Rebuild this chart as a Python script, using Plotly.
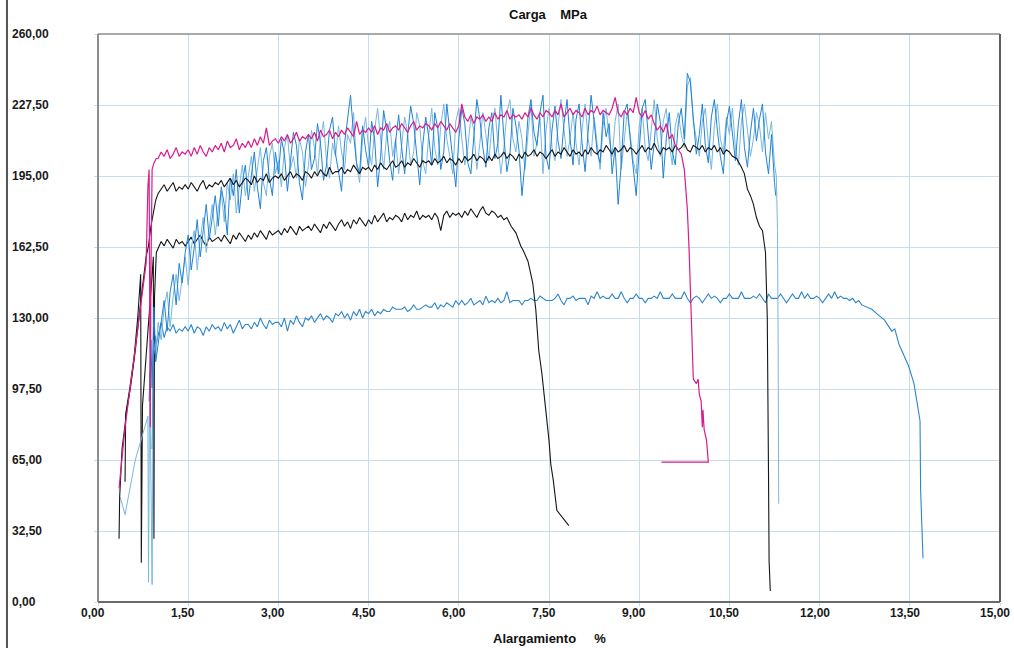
import plotly.graph_objects as go

# ---------------- data ----------------
# common elongation grid (%) used by the plateau parts of the curves
elong_grid = [
    1.00, 1.05, 1.10, 1.15, 1.20, 1.25, 1.30, 1.35, 1.40, 1.45,
    1.50, 1.55, 1.60, 1.65, 1.70, 1.75, 1.80, 1.85, 1.90, 1.95,
    2.00, 2.05, 2.10, 2.15, 2.20, 2.25, 2.30, 2.35, 2.40, 2.45,
    2.50, 2.55, 2.60, 2.65, 2.70, 2.75, 2.80, 2.85, 2.90, 2.95,
    3.00, 3.05, 3.10, 3.15, 3.20, 3.25, 3.30, 3.35, 3.40, 3.45,
    3.50, 3.55, 3.60, 3.65, 3.70, 3.75, 3.80, 3.85, 3.90, 3.95,
    4.00, 4.05, 4.10, 4.15, 4.20, 4.25, 4.30, 4.35, 4.40, 4.45,
    4.50, 4.55, 4.60, 4.65, 4.70, 4.75, 4.80, 4.85, 4.90, 4.95,
    5.00, 5.05, 5.10, 5.15, 5.20, 5.25, 5.30, 5.35, 5.40, 5.45,
    5.50, 5.55, 5.60, 5.65, 5.70, 5.75, 5.80, 5.85, 5.90, 5.95,
    6.00, 6.05, 6.10, 6.15, 6.20, 6.25, 6.30, 6.35, 6.40, 6.45,
    6.50, 6.55, 6.60, 6.65, 6.70, 6.75, 6.80, 6.85, 6.90, 6.95,
    7.00, 7.05, 7.10, 7.15, 7.20, 7.25, 7.30, 7.35, 7.40, 7.45,
    7.50, 7.55, 7.60, 7.65, 7.70, 7.75, 7.80, 7.85, 7.90, 7.95,
    8.00, 8.05, 8.10, 8.15, 8.20, 8.25, 8.30, 8.35, 8.40, 8.45,
    8.50, 8.55, 8.60, 8.65, 8.70, 8.75, 8.80, 8.85, 8.90, 8.95,
    9.00, 9.05, 9.10, 9.15, 9.20, 9.25, 9.30, 9.35, 9.40, 9.45,
    9.50, 9.55, 9.60, 9.65, 9.70, 9.75, 9.80, 9.85, 9.90, 9.95,
    10.00, 10.05, 10.10, 10.15, 10.20, 10.25, 10.30, 10.35, 10.40, 10.45,
    10.50, 10.55, 10.60, 10.65, 10.70, 10.75, 10.80, 10.85, 10.90, 10.95,
    11.00, 11.05, 11.10, 11.15, 11.20, 11.25, 11.30, 11.35, 11.40, 11.45,
    11.50, 11.55, 11.60, 11.65, 11.70, 11.75, 11.80, 11.85, 11.90, 11.95,
    12.00, 12.05, 12.10, 12.15, 12.20, 12.25, 12.30, 12.35, 12.40, 12.45,
    12.50, 12.55, 12.60, 12.65, 12.70,
]

# --- magenta specimen ---
mag_start_x = [0.35, 0.40, 0.45, 0.52, 0.60, 0.68, 0.75, 0.80, 0.83, 0.85, 0.87, 0.88, 0.90, 0.93, 0.97]
mag_start_y = [52, 66, 80, 95, 112, 130, 145, 155, 190, 198, 80, 150, 198, 201, 203]
mag_plateau_y = [
    203, 206, 204, 207, 203, 205, 208, 204, 206, 205,
    207, 204, 208, 205, 209, 206, 204, 208, 206, 209,
    207, 210, 206, 211, 208, 209, 212, 207, 210, 208,
    211, 208, 212, 209, 213, 210, 217, 209, 211, 212,
    210, 213, 211, 214, 210, 212, 215, 211, 213, 212,
    214, 212, 215, 211, 216, 213, 214, 216, 212, 215,
    213, 216, 214, 217, 215, 213, 220, 214, 216, 215,
    217, 215, 218, 214, 217, 216, 219, 215, 217, 218,
    216, 219, 217, 215, 218, 220, 216, 218, 217, 219,
    218, 216, 219, 217, 220, 218, 216, 219, 217, 215,
    218, 228, 222, 220, 223, 219, 222, 221, 223, 220,
    222, 220, 224, 221, 223, 222, 225, 221, 223, 222,
    223, 221, 224, 222, 226, 223, 221, 224, 222, 225,
    224, 222, 225, 223, 228, 222, 224, 226, 223, 225,
    224, 222, 226, 223, 225, 224, 227, 223, 225, 224,
    223, 226, 231, 224, 222, 225, 223, 226, 224, 231,
    224, 222, 225, 221, 223, 219, 216, 218, 215, 219,
    212, 214, 209, 207, 205,
]
mag_end_x = [9.75, 9.80, 9.83, 9.87, 9.90, 9.95, 9.98, 10.00, 10.03, 10.05, 10.06, 10.08, 10.12, 10.15, 9.37]
mag_end_y = [198, 180, 161, 130, 102, 100, 102, 95, 92, 80, 88, 79, 74, 64, 64]

# --- black specimen (upper) ---
bku_start_x = [0.35, 0.36, 0.40, 0.48, 0.55, 0.62, 0.70, 0.76, 0.80, 0.84, 0.88, 0.92, 0.96]
bku_start_y = [29, 48, 70, 88, 100, 115, 135, 150, 158, 163, 172, 178, 184]
bku_plateau_y = [
    187, 189, 191, 188, 190, 192, 188, 190, 189, 191,
    189, 192, 190, 188, 191, 193, 189, 191, 190, 192,
    191, 193, 190, 192, 194, 191, 193, 190, 192, 194,
    193, 191, 195, 192, 194, 193, 196, 192, 194, 195,
    194, 196, 193, 195, 197, 194, 196, 195, 193, 197,
    196, 194, 197, 195, 198, 196, 195, 199, 196, 197,
    197, 199, 196, 198, 197, 200, 198, 196, 199, 198,
    199, 197, 200, 198, 201, 199, 198, 200, 202, 199,
    200, 202, 199, 201, 200, 203, 201, 199, 202, 201,
    202, 200, 203, 201, 202, 204, 201, 203, 202, 200,
    203, 201, 204, 202, 203, 205, 202, 204, 203, 201,
    204, 202, 205, 203, 204, 206, 203, 205, 204, 202,
    205, 203, 206, 204, 205, 207, 204, 206, 205, 203,
    205, 207, 204, 206, 205, 208, 206, 204, 207, 205,
    206, 204, 207, 205, 208, 206, 205, 207, 206, 209,
    207, 205, 208, 206, 207, 209, 206, 208, 207, 205,
    207, 209, 206, 208, 207, 210, 207, 205, 208, 207,
    208, 206, 209, 207, 208, 210, 207, 206, 209, 208,
    207, 209, 206, 208, 207, 209, 206, 208, 205, 207,
    206,
]
bku_end_x = [10.55, 10.62, 10.70, 10.75, 10.80, 10.85, 10.90, 10.95, 11.00, 11.05, 11.10, 11.13, 11.15, 11.16, 11.18]
bku_end_y = [204, 203, 199, 196, 189, 186, 182, 176, 172, 170, 160, 130, 60, 19, 5]

# --- black specimen (lower) ---
bkl_start_x = [0.45, 0.46, 0.53, 0.60, 0.66, 0.71, 0.72, 0.74, 0.78, 0.82, 0.86, 0.90, 0.92, 0.93, 0.94, 0.97]
bkl_start_y = [55, 86, 98, 112, 130, 150, 18, 90, 105, 118, 135, 150, 158, 29, 140, 160]
bkl_plateau_y = [
    162, 165, 163, 166, 164, 162, 166, 164, 165, 163,
    165, 167, 164, 166, 168, 165, 163, 167, 165, 166,
    167, 165, 168, 166, 164, 168, 166, 169, 167, 165,
    168, 166, 169, 167, 170, 168, 166, 170, 168, 169,
    170, 168, 171, 169, 172, 170, 168, 172, 170, 171,
    172, 170, 173, 171, 169, 173, 171, 174, 172, 170,
    173, 175, 172, 174, 171, 175, 173, 176, 174, 172,
    175, 173, 177, 174, 176, 178, 174, 176, 175, 177,
    176, 174, 178, 175, 177, 176, 179, 175, 177, 176,
    177, 175, 178, 176, 170, 177, 179, 176, 178, 177,
    178, 176, 179, 177, 180, 178, 176, 179, 181, 178,
    177, 179, 178, 176, 177, 175, 176,
]
bkl_end_x = [6.87, 6.95, 7.03, 7.07, 7.15, 7.23, 7.28, 7.33, 7.38, 7.45, 7.50, 7.53, 7.57, 7.63, 7.72, 7.83]
bkl_end_y = [172, 169, 163, 161, 156, 146, 134, 115, 105, 88, 74, 63, 56, 42, 39, 35]

# --- bright blue specimen (noisy) ---
bl1_start_x = [0.85, 0.88, 0.90, 0.93, 0.96]
bl1_start_y = [92, 120, 98, 135, 110]
bl1_plateau_y = [
    118, 130, 138, 124, 142, 150, 136, 155, 146, 160,
    168, 152, 162, 175, 158, 170, 182, 166, 176, 186,
    172, 190, 182, 168, 194, 186, 198, 178, 192, 200,
    184, 196, 206, 190, 180, 202, 208, 194, 186, 206,
    196, 212, 205, 188, 201, 215, 209, 192, 184, 206,
    214, 198, 203, 219, 210, 193, 200, 216, 222, 205,
    197, 188, 210, 221, 232, 214, 201, 196, 218, 207,
    199, 220, 212, 190, 204, 225, 216, 202, 193, 211,
    223, 208, 196, 214, 227, 219, 203, 191, 209, 222,
    213, 200, 224, 217, 198, 206, 228, 215, 204, 190,
    212, 226, 219, 201, 196, 214, 230, 221, 208, 199,
    217, 224, 203, 210, 232, 213, 197, 205, 226, 218,
    207, 186, 201, 222, 230, 215, 209, 224, 232, 204,
    198, 216, 227, 211, 203, 219, 230, 212, 200, 221,
    228, 210, 197, 215, 232, 220, 206, 201, 224, 213,
    219, 196, 208, 182, 200, 224, 228, 212, 199, 186,
    207, 226, 230, 214, 198, 210, 228, 220, 194, 212,
    224, 206, 200, 219, 226, 212, 242, 238, 221, 205,
    214, 228, 209, 201, 222, 230, 216, 204, 196, 219,
    227, 213, 202, 219, 230, 208, 199, 215, 226, 211,
    221, 228, 206, 196, 214, 192,
]
bl1_end_x = [11.27]
bl1_end_y = [186]

# --- light blue specimen (noisy) ---
bl2_start_x = [0.37, 0.45, 0.62, 0.72, 0.83, 0.84, 0.86, 0.90, 0.92, 0.96]
bl2_start_y = [48, 40, 65, 75, 85, 9, 105, 8, 120, 112]
bl2_plateau_y = [
    128, 120, 135, 142, 126, 140, 150, 138, 148, 158,
    145, 162, 170, 152, 166, 176, 160, 172, 182, 168,
    180, 188, 174, 192, 184, 196, 178, 190, 200, 186,
    194, 204, 188, 198, 208, 192, 186, 204, 210, 196,
    202, 190, 208, 214, 198, 204, 194, 212, 206, 190,
    200, 216, 208, 196, 212, 220, 202, 194, 210, 204,
    218, 206, 198, 214, 210, 224, 200, 192, 212, 222,
    208, 200, 216, 226, 210, 198, 214, 220, 204, 212,
    196, 210, 222, 214, 200, 206, 224, 218, 202, 196,
    214, 226, 208, 200, 218, 228, 212, 204, 196, 220,
    226, 212, 200, 208, 222, 216, 198, 210, 224, 214,
    202, 218, 226, 210, 196, 208, 224, 230, 212, 206,
    220, 212, 198, 214, 228, 204, 210, 222, 196, 216,
    226, 208, 202, 218, 230, 216, 204, 212, 224, 210,
    200, 216, 228, 212, 204, 222, 210, 198, 218, 226,
    212, 204, 220, 228, 198, 210, 224, 214, 202, 196,
    218, 226, 208, 202, 216, 230, 212, 204, 220, 226,
    210, 200, 218, 224, 214, 208, 236, 240, 220, 212,
    204, 220, 226, 210, 198, 218, 228, 212, 206, 222,
    214, 226, 208, 200, 220, 228, 216, 204, 212, 224,
    218, 206, 224, 212, 220, 200,
]
bl2_end_x = [11.28, 11.30, 11.31, 11.32]
bl2_end_y = [195, 170, 120, 45]

# --- lower blue specimen ---
bl3_start_x = [0.90, 0.92, 0.95, 0.97]
bl3_start_y = [70, 115, 122, 118]
bl3_plateau_y = [
    122, 128, 121, 126, 124, 127, 123, 125, 124, 126,
    124, 127, 123, 126, 125, 122, 126, 124, 127, 125,
    126, 124, 128, 125, 127, 123, 126, 129, 125, 127,
    127, 125, 128, 126, 130, 127, 125, 129, 127, 128,
    128, 126, 130, 124, 129, 127, 131, 128, 126, 130,
    129, 131, 128, 130, 132, 129, 131, 130, 128, 132,
    131, 133, 130, 132, 129, 133, 131, 134, 130, 133,
    132, 134, 131, 133, 132, 134, 133, 133, 135, 134,
    134, 134, 135, 133, 134, 136, 134, 134, 135, 136,
    135, 135, 137, 134, 136, 135, 137, 136, 135, 138,
    136, 138, 136, 137, 139, 136, 137, 138, 136, 140,
    137, 138, 137, 139, 137, 138, 142, 137, 138, 138,
    138, 136, 138, 138, 139, 138, 138, 140, 139, 138,
    138, 138, 139, 141, 138, 136, 139, 139, 140, 138,
    139, 139, 139, 136, 140, 139, 142, 139, 140, 139,
    139, 141, 139, 139, 142, 139, 137, 139, 139, 141,
    139, 139, 137, 139, 139, 140, 139, 142, 139, 139,
    139, 141, 139, 139, 139, 142, 139, 137, 139, 140,
    139, 137, 139, 141, 139, 140, 139, 137, 139, 139,
    141, 139, 139, 139, 142, 139, 139, 139, 140, 139,
    141, 139, 137, 141, 139, 139, 139, 141, 139, 137,
    139, 141, 139, 139, 142, 139, 141, 139, 139, 140,
    139, 137, 139, 141, 139, 142, 139, 140, 139, 139,
    138, 139, 137, 138, 136,
]
bl3_end_x = [12.87, 12.95, 13.08, 13.20, 13.25, 13.32, 13.40, 13.45, 13.48, 13.57, 13.62, 13.66, 13.67, 13.68, 13.70, 13.72]
bl3_end_y = [134, 132, 129, 124, 125, 118, 113, 110, 108, 100, 92, 86, 83, 51, 31, 20]

# axis ticks
x_tick_vals = [0, 1.5, 3, 4.5, 6, 7.5, 9, 10.5, 12, 13.5, 15]
x_tick_text = ["0,00", "1,50", "3,00", "4,50", "6,00", "7,50", "9,00", "10,50", "12,00", "13,50", "15,00"]
y_tick_vals = [0, 32.5, 65, 97.5, 130, 162.5, 195, 227.5, 260]
y_tick_text = ["0,00", "32,50", "65,00", "97,50", "130,00", "162,50", "195,00", "227,50", "260,00"]

# ---------------- figure ----------------
FONT = "Liberation Sans, Arial, sans-serif"
GRID = "#c9dcea"


def series(sx, sy, py, ex, ey):
    n = len(py)
    return sx + elong_grid[:n] + ex, sy + py + ey


traces = [
    ("Azul inferior", bl3_start_x, bl3_start_y, bl3_plateau_y, bl3_end_x, bl3_end_y, "#2f86c8", 1.1),
    ("Negro inferior", bkl_start_x, bkl_start_y, bkl_plateau_y, bkl_end_x, bkl_end_y, "#161616", 1.1),
    ("Azul claro", bl2_start_x, bl2_start_y, bl2_plateau_y, bl2_end_x, bl2_end_y, "#78b7de", 1.0),
    ("Azul", bl1_start_x, bl1_start_y, bl1_plateau_y, bl1_end_x, bl1_end_y, "#1f83d6", 1.0),
    ("Negro superior", bku_start_x, bku_start_y, bku_plateau_y, bku_end_x, bku_end_y, "#161616", 1.1),
    ("Magenta", mag_start_x, mag_start_y, mag_plateau_y, mag_end_x, mag_end_y, "#d81c8c", 1.2),
]

fig = go.Figure()
for name, sx, sy, py, ex, ey, col, w in traces:
    xs, ys = series(sx, sy, py, ex, ey)
    fig.add_trace(go.Scatter(x=xs, y=ys, mode="lines", name=name,
                             line=dict(color=col, width=w), showlegend=False))

fig.update_xaxes(range=[0, 15], tickvals=x_tick_vals, showticklabels=False,
                 showgrid=True, gridcolor=GRID, gridwidth=1, zeroline=False,
                 ticks="outside", ticklen=3, tickcolor=GRID, showline=False)
fig.update_yaxes(range=[0, 260], tickvals=y_tick_vals, showticklabels=False,
                 showgrid=True, gridcolor=GRID, gridwidth=1, zeroline=False,
                 ticks="outside", ticklen=3, tickcolor=GRID, showline=False)

annotations = []
for v, t in zip(y_tick_vals, y_tick_text):
    annotations.append(dict(x=-0.0976, xref="paper", y=v, yref="y", text=t,
                            showarrow=False, xanchor="left", yanchor="middle",
                            font=dict(family=FONT, size=12, color="#1a1a1a", weight="bold")))
for v, t in zip(x_tick_vals, x_tick_text):
    annotations.append(dict(x=v, xref="x", y=-0.0194, yref="paper", text=t,
                            showarrow=False, xanchor="center", yanchor="middle", xshift=-5,
                            font=dict(family=FONT, size=12, color="#1a1a1a", weight="bold")))
annotations.append(dict(x=0.4995, xref="paper", y=1.0335, yref="paper",
                        text="Carga\u00a0\u00a0\u00a0\u00a0MPa", showarrow=False,
                        xanchor="center", yanchor="middle",
                        font=dict(family=FONT, size=13, color="#111", weight="bold")))
annotations.append(dict(x=0.5006, xref="paper", y=-0.0634, yref="paper",
                        text="Alargamiento\u00a0\u00a0\u00a0\u00a0\u00a0%", showarrow=False,
                        xanchor="center", yanchor="middle",
                        font=dict(family=FONT, size=13, color="#111", weight="bold")))

shapes = [
    dict(type="line", xref="paper", yref="paper", x0=0, x1=1, y0=1, y1=1,
         line=dict(color="#8c8c8c", width=1.5)),
    dict(type="line", xref="paper", yref="paper", x0=0, x1=0, y0=0, y1=1,
         line=dict(color="#808080", width=1.8)),
    dict(type="line", xref="paper", yref="paper", x0=0, x1=1, y0=0, y1=0,
         line=dict(color="#6a6a6a", width=2)),
    dict(type="line", xref="paper", yref="paper", x0=1, x1=1, y0=0, y1=1,
         line=dict(color="#5e5e5e", width=2)),
    dict(type="line", xref="paper", yref="paper", x0=-0.1009, x1=-0.1009, y0=-0.09, y1=1.07,
         line=dict(color="#555555", width=2)),
]

fig.update_layout(
    width=1014, height=648,
    margin=dict(l=98, r=14, t=34, b=46, pad=0),
    paper_bgcolor="white", plot_bgcolor="white",
    annotations=annotations, shapes=shapes,
    font=dict(family=FONT),
    showlegend=False,
)

fig.write_html("out.html")
